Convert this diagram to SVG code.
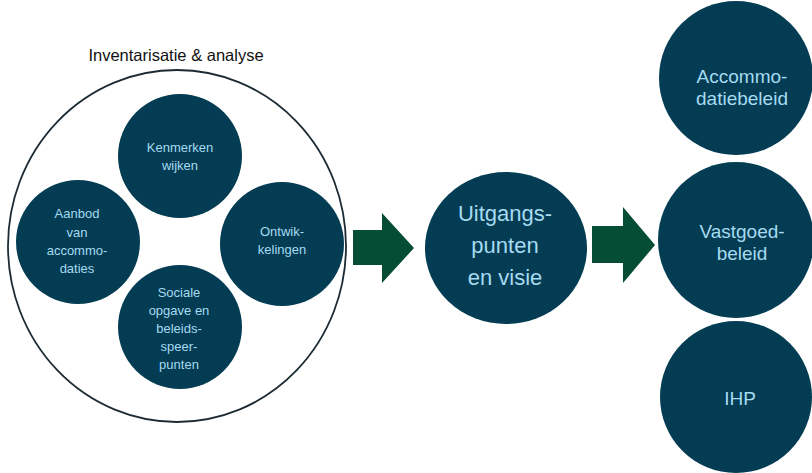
<svg xmlns="http://www.w3.org/2000/svg" width="812" height="473" viewBox="0 0 812 473">
<style>
.n{fill:#033c53}
.t{fill:#a6dbf1;font-family:"Liberation Sans",Arial,sans-serif;text-anchor:middle}
.s{font-size:13px}
.m{font-size:19px}
.l{font-size:22px}
.a{fill:#064d35}
</style>
<rect width="812" height="473" fill="#ffffff"/>
<g id="group-inventarisatie">
<text x="176" y="61" font-family="Liberation Sans,Arial,sans-serif" font-size="16.5" text-anchor="middle" fill="#111111">Inventarisatie &amp; analyse</text>
<ellipse cx="177" cy="246" rx="169" ry="176" fill="none" stroke="#1c2b33" stroke-width="1.8"/>
</g>
<g id="node-kenmerken">
<circle class="n" cx="180" cy="156" r="62"/>
<text class="t s" x="180" y="152">Kenmerken</text>
<text class="t s" x="180" y="170">wijken</text>
</g>
<g id="node-aanbod">
<circle class="n" cx="78" cy="242" r="62"/>
<text class="t s" x="77" y="218">Aanbod</text>
<text class="t s" x="77" y="237">van</text>
<text class="t s" x="77" y="255">accommo-</text>
<text class="t s" x="77" y="273">daties</text>
</g>
<g id="node-ontwikkelingen">
<circle class="n" cx="282" cy="244" r="62"/>
<text class="t s" x="282" y="236">Ontwik-</text>
<text class="t s" x="282" y="254">kelingen</text>
</g>
<g id="node-sociale">
<circle class="n" cx="180" cy="327" r="62"/>
<text class="t s" x="179" y="297">Sociale</text>
<text class="t s" x="179" y="315">opgave en</text>
<text class="t s" x="179" y="333">beleids-</text>
<text class="t s" x="179" y="351">speer-</text>
<text class="t s" x="179" y="369">punten</text>
</g>
<g id="node-uitgangspunten">
<ellipse class="n" cx="506" cy="248" rx="81" ry="76"/>
<text class="t l" x="505" y="221">Uitgangs-</text>
<text class="t l" x="505" y="253">punten</text>
<text class="t l" x="505" y="285">en visie</text>
</g>
<g id="node-accommodatiebeleid">
<circle class="n" cx="736" cy="78" r="77"/>
<text class="t m" x="742" y="83">Accommo-</text>
<text class="t m" x="742" y="105">datiebeleid</text>
</g>
<g id="node-vastgoedbeleid">
<circle class="n" cx="736" cy="240" r="78"/>
<text class="t m" x="742" y="238">Vastgoed-</text>
<text class="t m" x="742" y="260">beleid</text>
</g>
<g id="node-ihp">
<circle class="n" cx="736" cy="397" r="76"/>
<text class="t m" x="740" y="405">IHP</text>
</g>
<g id="connectors">
<polygon class="a" points="353,230 382,230 382,213 414,248 382,283 382,265 353,265"/>
<polygon class="a" points="592,226 623,226 623,207 655,245 623,283 623,263 592,263"/>
</g>
</svg>
